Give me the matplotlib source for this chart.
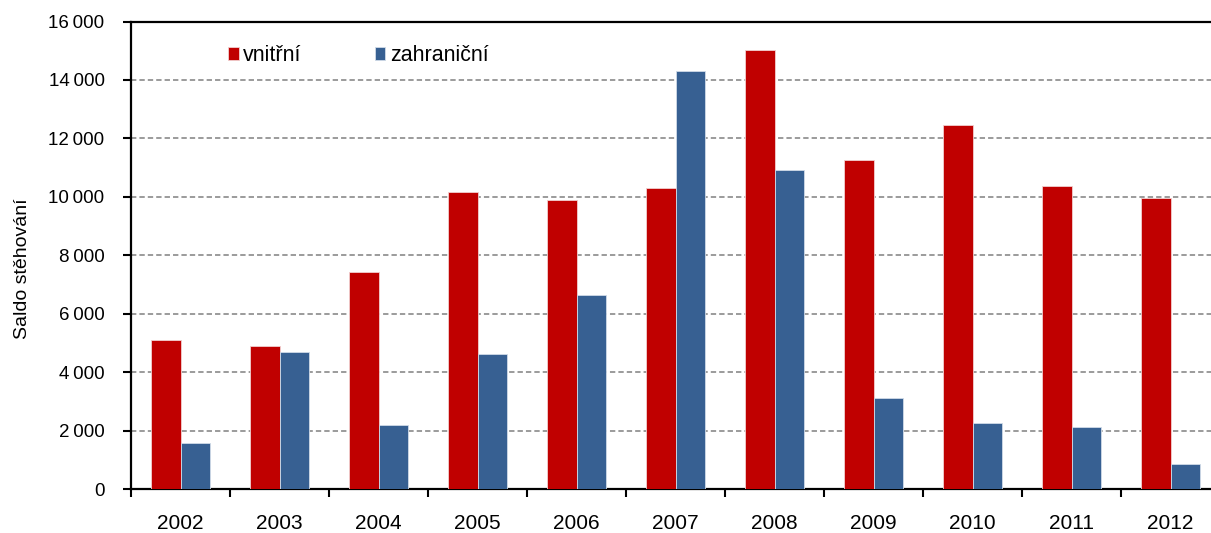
import numpy as np
import matplotlib
matplotlib.use('Agg')
import matplotlib.pyplot as plt
from matplotlib.ticker import FuncFormatter, FixedLocator

plt.rcParams['font.family'] = ['Liberation Sans', 'DejaVu Sans']

years = ['2002', '2003', '2004', '2005', '2006', '2007', '2008', '2009', '2010', '2011', '2012']
vnitrni = [5100, 4900, 7430, 10170, 9900, 10310, 15040, 11250, 12470, 10380, 9970]
zahranicni = [1590, 4700, 2190, 4620, 6650, 14290, 10920, 3120, 2260, 2120, 840]

RED = '#C00000'
BLUE = '#376092'

fig = plt.figure(figsize=(12.11, 5.33), dpi=100)
ax = fig.add_axes([131 / 1211, 44 / 533, 1089 / 1211, 467.5 / 533])

x = np.arange(len(years))
w = 0.298
ax.bar(x - w / 2, vnitrni, w, color=RED, edgecolor='#f2d0d0', linewidth=0.6, label='vnitřní', zorder=3)
ax.bar(x + w / 2, zahranicni, w, color=BLUE, edgecolor='#d0dbe8', linewidth=0.6, label='zahraniční', zorder=3)

ax.set_xlim(-0.5, len(years) - 0.5)
ax.set_ylim(0, 16000)
ax.set_yticks(np.arange(0, 16001, 2000))
ax.yaxis.set_major_formatter(FuncFormatter(lambda v, p: f'{int(v):,}'.replace(',', '\u2009')))
ax.yaxis.grid(True, color='#808080', linestyle=(0, (3.5, 2)), linewidth=1.1, zorder=0)

# category boundaries as ticks, labels centred
ax.xaxis.set_major_locator(FixedLocator(np.arange(-0.5, len(years), 1.0)))
ax.xaxis.set_major_formatter(FuncFormatter(lambda v, p: ''))
ax.set_xticks(x, years, minor=True)
ax.tick_params(axis='x', which='major', direction='out', length=6, width=1.5)
ax.tick_params(axis='x', which='minor', length=0, pad=18, labelsize=15)
ax.tick_params(axis='y', direction='out', length=6, width=1.5, labelsize=13.5, pad=13)

for s in ['left', 'bottom', 'top']:
    ax.spines[s].set_linewidth(1.6)
    ax.spines[s].set_color('black')
ax.spines['right'].set_visible(False)

ax.set_ylabel('Saldo stěhování', fontsize=14)
ax.yaxis.set_label_coords(-0.092, 0.472)

ax.legend(loc='center left', bbox_to_anchor=(0.089, 0.927), ncol=2, frameon=False,
          fontsize=15.5, handlelength=0.5, handleheight=0.5, handletextpad=0.2,
          columnspacing=3.4, borderpad=0, borderaxespad=0)

fig.savefig('out.png', dpi=100)
